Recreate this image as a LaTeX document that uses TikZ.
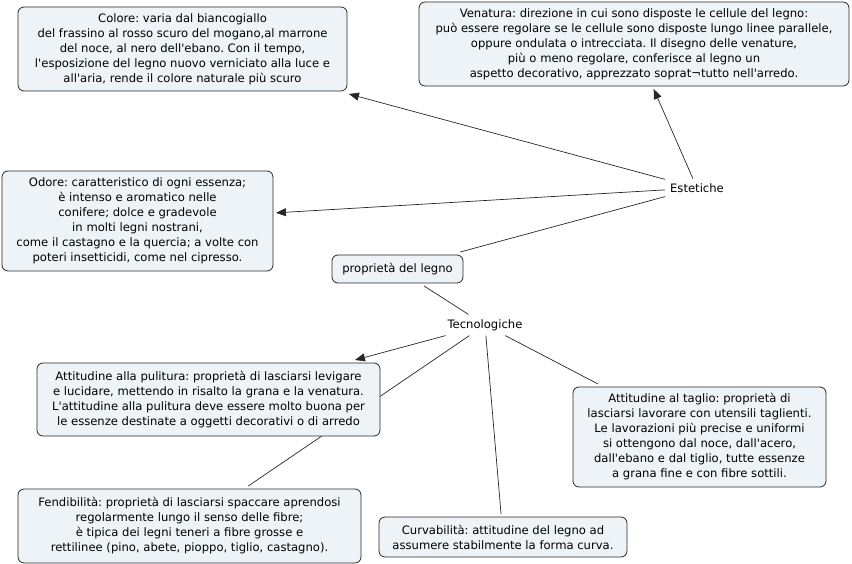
\documentclass[tikz,border=0pt]{standalone}
\usepackage{fontspec}
\setmainfont{DejaVu Sans}[Ligatures=ResetAll]
\usetikzlibrary{arrows.meta}
\definecolor{boxfill}{RGB}{237,243,246}
\definecolor{boxline}{RGB}{40,40,40}
\newcommand{\ap}{\textquotesingle}
\frenchspacing
\begin{document}
\begin{tikzpicture}[
  x=1pt,y=-1pt,
  font=\fontsize{11.6}{15}\selectfont,
  box/.style={draw=boxline, fill=boxfill, rounded corners=6pt, align=center, line width=0.8pt, inner sep=0pt, outer sep=3pt},
  tag/.style={inner sep=3pt, outer sep=2pt},
  link/.style={line width=0.7pt, draw=black!85},
  arrowlink/.style={link, -{Triangle[length=10pt,width=8pt]}}
]
\useasboundingbox (0,0) rectangle (852,564);

% concept nodes
\node[box, minimum width=131pt, minimum height=28pt] (legno) at (397.5,269) {propriet\`a del legno};
\node[tag] (estetiche) at (697,188) {Estetiche};
\node[tag] (tecno) at (485,325) {Tecnologiche};

% estetiche
\node[box, minimum width=329pt, minimum height=84pt] (colore) at (182.5,49) {Colore: varia dal biancogiallo\\del frassino al rosso scuro del mogano,al marrone\\del noce, al nero dell\ap ebano. Con il tempo,\\l\ap esposizione del legno nuovo verniciato alla luce e\\all\ap aria, rende il colore naturale pi\`u scuro};
\node[box, minimum width=430pt, minimum height=84pt] (venatura) at (634,44) {Venatura: direzione in cui sono disposte le cellule del legno:\\pu\`o essere regolare se le cellule sono disposte lungo linee parallele,\\oppure ondulata o intrecciata. Il disegno delle venature,\\pi\`u o meno regolare, conferisce al legno un\\aspetto decorativo, apprezzato soprat\textlnot tutto nell\ap arredo.};
\node[box, minimum width=271pt, minimum height=100pt] (odore) at (137.5,221) {Odore: caratteristico di ogni essenza;\\\`e intenso e aromatico nelle\\conifere; dolce e gradevole\\in molti legni nostrani,\\come il castagno e la quercia; a volte con\\poteri insetticidi, come nel cipresso.};

% tecnologiche
\node[box, minimum width=253pt, minimum height=100pt] (taglio) at (699.5,437) {Attitudine al taglio: propriet\`a di\\lasciarsi lavorare con utensili taglienti.\\Le lavorazioni pi\`u precise e uniformi\\si ottengono dal noce, dall\ap acero,\\dall\ap ebano e dal tiglio, tutte essenze\\a grana fine e con fibre sottili.};
\node[box, minimum width=343pt, minimum height=74pt] (fend) at (189.5,526) {Fendibilit\`a: propriet\`a di lasciarsi spaccare aprendosi\\regolarmente lungo il senso delle fibre;\\\`e tipica dei legni teneri a fibre grosse e\\rettilinee (pino, abete, pioppo, tiglio, castagno).};
\node[box, minimum width=248pt, minimum height=40pt] (curva) at (503,537) {Curvabilit\`a: attitudine del legno ad\\assumere stabilmente la forma curva.};

% this one runs behind the pulitura box
\draw[link] (tecno) -- (fend);
\node[box, minimum width=343pt, minimum height=73pt] (pulitura) at (208.5,399.5) {Attitudine alla pulitura: propriet\`a di lasciarsi levigare\\e lucidare, mettendo in risalto la grana e la venatura.\\L\ap attitudine alla pulitura deve essere molto buona per\\le essenze destinate a oggetti decorativi o di arredo};

% connectors
\draw[link] (legno) -- (estetiche);
\draw[link] (legno) -- (tecno);
\draw[arrowlink] (estetiche) -- (colore);
\draw[arrowlink] (estetiche) -- (venatura);
\draw[arrowlink] (estetiche) -- (odore);
\draw[arrowlink] (tecno) -- (pulitura);
\draw[link] (tecno) -- (curva);
\draw[link] (tecno) -- (taglio);
\end{tikzpicture}
\end{document}
